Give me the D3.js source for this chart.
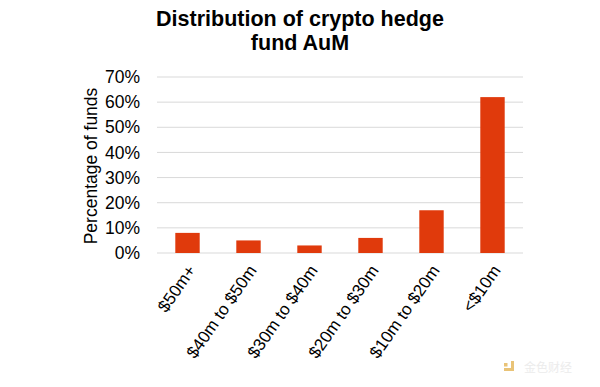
<!DOCTYPE html>
<html>
<head>
<meta charset="utf-8">
<script src="https://cdn.jsdelivr.net/npm/d3@7"></script>
<style>
  body { margin: 0; background: #fff; }
  svg { display: block; font-family: "Liberation Sans", Arial, sans-serif; }
</style>
</head>
<body>
<svg id="chart"></svg>
<script>
var categories = ["$50m+", "$40m to $50m", "$30m to $40m", "$20m to $30m", "$10m to $20m", "<$10m"];
var values = [8, 5, 3, 6, 17, 62];
var yTicks = [0, 10, 20, 30, 40, 50, 60, 70];
var titleLines = ["Distribution of crypto hedge", "fund AuM"];

const width = 600;
const height = 387;
const marginTop = 77;
const marginRight = 77;
const marginBottom = 134;
const marginLeft = 157;

const x = d3.scaleBand(categories, [marginLeft, width - marginRight]).paddingInner(0.6).paddingOuter(0.3);
const y = d3.scaleLinear([0, 70], [height - marginBottom, marginTop]);

var svg = d3.select('#chart')
    .attr("width", width)
    .attr("height", height)
    .attr("viewBox", [0, 0, width, height]);

// title
svg.append("text")
    .attr("x", 300)
    .attr("y", 26)
    .attr("text-anchor", "middle")
    .attr("font-size", 21.5)
    .attr("font-weight", "bold")
    .selectAll("tspan")
    .data(titleLines)
    .join("tspan")
    .attr("x", 300)
    .attr("dy", function(d, i) { return i === 0 ? 0 : 24; })
    .text(function(d) { return d; });

// gridlines
svg.append("g")
    .selectAll("line")
    .data(yTicks)
    .join("line")
    .attr("x1", marginLeft)
    .attr("x2", width - marginRight)
    .attr("y1", function(d) { return y(d); })
    .attr("y2", function(d) { return y(d); })
    .attr("stroke", "#d9d9d9")
    .attr("stroke-width", 1);

// bars
svg.append("g")
    .selectAll("rect")
    .data(values)
    .join("rect")
    .attr("x", function(d, i) { return x(categories[i]); })
    .attr("y", function(d) { return y(d); })
    .attr("width", x.bandwidth())
    .attr("height", function(d) { return y(0) - y(d); })
    .attr("fill", "#e03a0c");

// Y axis
svg.append("g")
    .attr("transform", "translate(" + (marginLeft - 7) + ",0)")
    .call(d3.axisLeft(y).tickValues(yTicks).tickSize(0).tickPadding(10).tickFormat(function(d) { return d + "%"; }))
    .call(function(g) { g.select(".domain").remove(); })
    .call(function(g) { g.selectAll("text").attr("font-size", 17.5).attr("fill", "#000").attr("font-family", "Liberation Sans, Arial, sans-serif"); });

// X axis
svg.append("g")
    .attr("transform", "translate(0," + (height - marginBottom) + ")")
    .call(d3.axisBottom(x).tickSize(0).tickPadding(0))
    .call(function(g) { g.select(".domain").remove(); })
    .call(function(g) {
        g.selectAll("text")
            .attr("font-size", 17)
            .attr("fill", "#000")
            .attr("font-family", "Liberation Sans, Arial, sans-serif")
            .attr("text-anchor", "end")
            .attr("dy", "0.35em")
            .attr("transform", "translate(4,14) rotate(-55)");
    });

// Y axis title
svg.append("text")
    .attr("transform", "translate(97," + ((y(0) + y(70)) / 2 + 1) + ") rotate(-90)")
    .attr("text-anchor", "middle")
    .attr("font-size", 17.5)
    .text("Percentage of funds");

// watermark
var wm = svg.append("g").attr("opacity", 0.75);
wm.append("path")
    .attr("d", "M504,371 h10 v-10 h-3 v7 h-7 z")
    .attr("fill", "#e2b04a");
wm.append("rect").attr("x", 504).attr("y", 363).attr("width", 3.5).attr("height", 3.5).attr("fill", "#e2b04a");
wm.append("text")
    .attr("x", 524)
    .attr("y", 372)
    .attr("font-size", 12)
    .attr("fill", "#e6e6e6")
    .attr("font-family", "Noto Sans CJK SC, sans-serif")
    .text("金色财经");
</script>
</body>
</html>
